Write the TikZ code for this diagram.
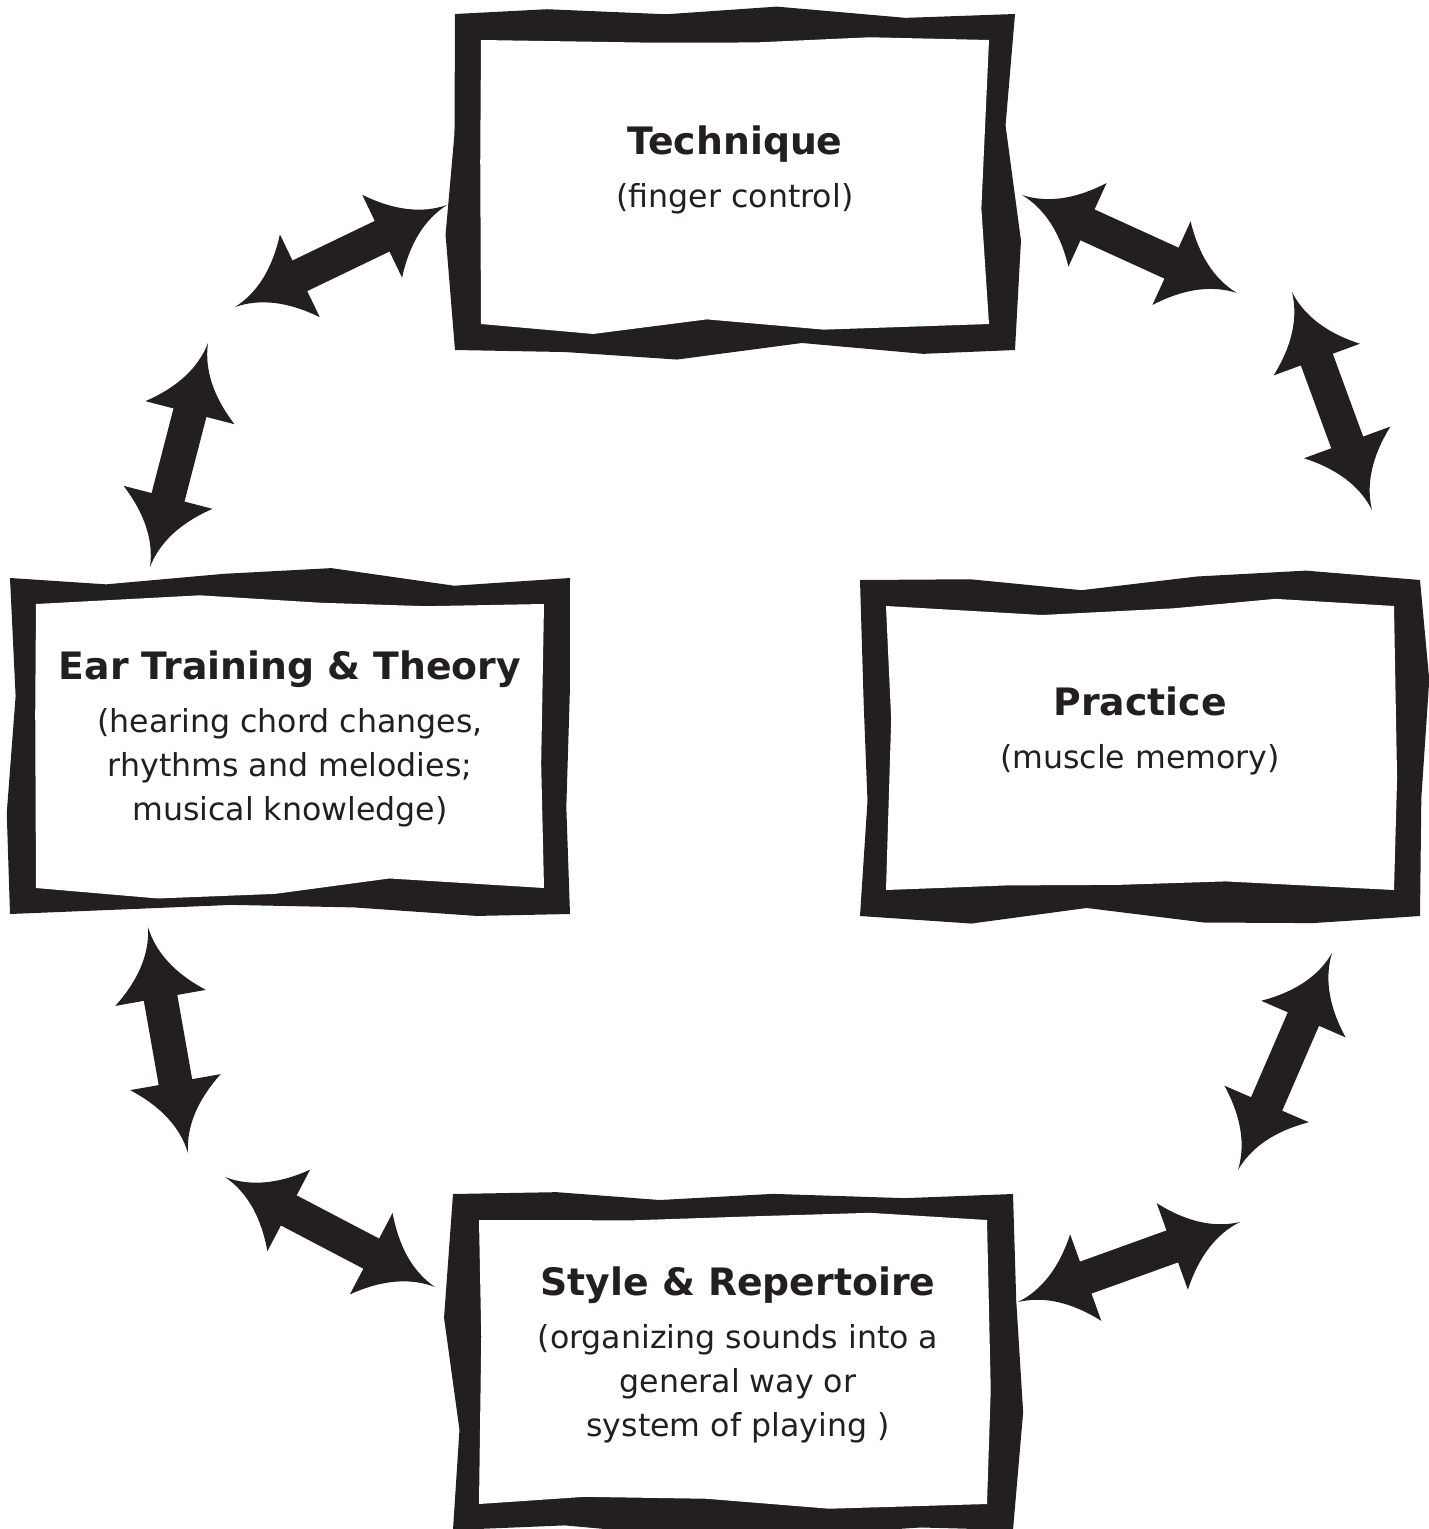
\documentclass[tikz,border=0pt]{standalone}
\usepackage{fontspec}
\setmainfont{DejaVu Sans}
\usepackage{tikz}
\usetikzlibrary{arrows.meta, calc, backgrounds, decorations.pathmorphing}

\definecolor{ink}{HTML}{231F20}

% arrow head with curved barbs
\pgfdeclarearrow{
  name = Barbed,
  parameters = {\the\pgfarrowlength,\the\pgfarrowwidth},
  setup code = {
    \pgfarrowssettipend{0pt}
    \pgfarrowssetbackend{-\pgfarrowlength}
    \pgfarrowssetlineend{-0.9\pgfarrowlength}
    \pgfarrowsupperhullpoint{0pt}{0pt}
    \pgfarrowsupperhullpoint{-\pgfarrowlength}{0.5\pgfarrowwidth}
    \pgfarrowssavethe\pgfarrowlength
    \pgfarrowssavethe\pgfarrowwidth
  },
  drawing code = {
    \pgfpathmoveto{\pgfpointorigin}
    \pgfpathquadraticcurveto{\pgfpoint{-0.55\pgfarrowlength}{0.05\pgfarrowwidth}}{\pgfpoint{-\pgfarrowlength}{0.5\pgfarrowwidth}}
    \pgfpathlineto{\pgfpoint{-\pgfarrowlength}{0.19\pgfarrowwidth}}
    \pgfpathlineto{\pgfpoint{-\pgfarrowlength}{-0.19\pgfarrowwidth}}
    \pgfpathlineto{\pgfpoint{-\pgfarrowlength}{-0.5\pgfarrowwidth}}
    \pgfpathquadraticcurveto{\pgfpoint{-0.55\pgfarrowlength}{-0.05\pgfarrowwidth}}{\pgfpointorigin}
    \pgfpathclose
    \pgfusepathqfill
  },
  defaults = {length = 1.44cm, width = 1.84cm}
}

\newcommand{\boxtitle}[1]{{\fontsize{21.5pt}{30pt}\selectfont\bfseries #1}}

\begin{document}
\begin{tikzpicture}[x=0.02cm,y=-0.02cm,>=Barbed,line join=miter]

	\tikzset{box st/.style={text=ink, align=center,
			font=\fontsize{18pt}{25.2pt}\selectfont},
		rough/.style={decorate, decoration={random steps,
				segment length=2.3cm, amplitude=0.21cm}},
		link st/.style={<->, draw=ink, line width=0.68cm}}

	\useasboundingbox (0,0) rectangle (1428,1529);
	\pgfmathsetseed{5}

	\node[box st] (tech) at (735,170) {\boxtitle{Technique}\\[5pt](finger control)};
	\node[box st] (ear) at (290,739) {\boxtitle{Ear Training \& Theory}\\[5pt](hearing chord changes,\\rhythms and melodies;\\musical knowledge)};
	\node[box st] (prac) at (1140,731) {\boxtitle{Practice}\\[5pt](muscle memory)};
	\node[box st] (style) at (738,1355) {\boxtitle{Style \& Repertoire}\\[5pt](organizing sounds into a\\general way or\\system of playing )};

	% rough frames behind the text
	\begin{scope}[on background layer]
		\foreach \n/\dx/\dy in {tech/0/12, ear/0/7, prac/0/17, style/-5/7}{
			\fill[rough, fill=ink] ($(\n)+(\dx-280,\dy-168)$) rectangle ($(\n)+(\dx+280,\dy+168)$);
			\fill[rough, fill=white] ($(\n)+(\dx-254,\dy-142)$) rectangle ($(\n)+(\dx+254,\dy+142)$);
		}
	\end{scope}

	% arrow ends round the circle
	\coordinate (a1) at (235,307);   \coordinate (b1) at (447,205);
	\coordinate (a2) at (208,343);   \coordinate (b2) at (150,567);
	\coordinate (a3) at (148,927);   \coordinate (b3) at (188,1153);
	\coordinate (a4) at (225,1177);  \coordinate (b4) at (435,1287);
	\coordinate (a5) at (1018,1302); \coordinate (b5) at (1240,1222);
	\coordinate (a6) at (1332,953);  \coordinate (b6) at (1238,1170);
	\coordinate (a7) at (1292,292);  \coordinate (b7) at (1372,510);
	\coordinate (a8) at (1022,195);  \coordinate (b8) at (1237,293);

	\foreach \i in {1,...,8}
		\draw[link st] (a\i) -- (b\i);

\end{tikzpicture}
\end{document}
